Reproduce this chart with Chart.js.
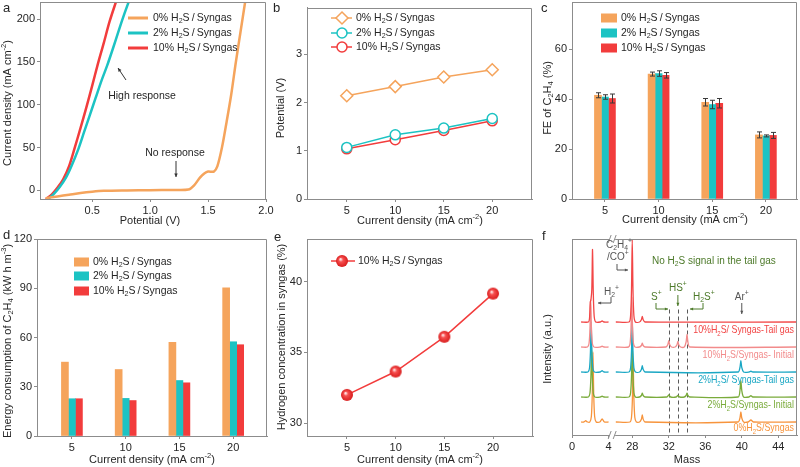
<!DOCTYPE html>
<html><head><meta charset="utf-8">
<script src="https://cdn.jsdelivr.net/npm/chart.js@4.4.1/dist/chart.umd.min.js"></script>
<style>
html,body{margin:0;padding:0;background:#fff;}
#wrap{position:relative;width:800px;height:467px;overflow:hidden;background:#fff}
#wrap canvas{position:absolute;left:0;top:0}
</style></head><body>
<div id="wrap">
<canvas id="ca" width="800" height="467"></canvas>
<canvas id="cb" width="800" height="467"></canvas>
<canvas id="cc" width="800" height="467"></canvas>
<canvas id="cd" width="800" height="467"></canvas>
<canvas id="ce" width="800" height="467"></canvas>
<canvas id="cf" width="800" height="467"></canvas>
</div>
<script>
// ---------------- DATA ----------------
// (a) polarization curves: potential (V) / current density (mA cm-2)
const aV0  = [0.10,0.20,0.30,0.40,0.50,0.60,0.80,1.00,1.20,1.33,1.38,1.43,1.47,1.50,1.55,1.58,1.62,1.66,1.70,1.74,1.78,1.82];
const aJ0  = [-9,-7,-5,-3,-1.5,-0.5,0,0.3,0.5,1,6,15,20,22,22,28,50,80,112,150,185,220];
const aV2  = [0.12,0.17,0.22,0.27,0.32,0.38,0.43,0.48,0.53,0.58,0.63,0.68,0.73,0.78,0.82];
const aJ2  = [-10,-4,4,14,28,48,68,88,108,128,146,166,187,207,222];
const aV10 = [0.10,0.15,0.20,0.25,0.30,0.35,0.40,0.45,0.50,0.55,0.60,0.65,0.71];
const aJ10 = [-10,-5,3,13,28,50,73,97,122,148,172,197,222];
const aXTicks = [0.5,1.0,1.5,2.0];
const aYTicks = [0,50,100,150,200];

// shared current-density categories
const cdCats = [5,10,15,20];
const cdTicks = [5,10,15,20];

// (b) cell potential (V)
const bPot0  = [2.14,2.33,2.53,2.68];
const bPot2  = [1.07,1.33,1.47,1.67];
const bPot10 = [1.04,1.23,1.42,1.62];
const bYTicks = [0,1,2,3];

// (c) FE of C2H4 (%) with error bars
const cFE0  = [41.6,50.1,38.8,25.7];
const cFE2  = [40.9,50.3,37.9,25.3];
const cFE10 = [40.3,49.6,38.4,25.5];
const cErr0  = [1.0,0.8,1.5,1.2];
const cErr2  = [0.9,1.1,1.7,0.4];
const cErr10 = [1.8,1.1,1.9,1.2];
const cYTicks = [0,20,40,60];

// (d) energy consumption of C2H4 (kW h m-3)
const dEC0  = [45.0,40.5,57.0,90.2];
const dEC2  = [22.7,22.9,33.8,57.4];
const dEC10 = [22.7,21.6,32.4,55.6];
const dYTicks = [0,30,60,90,120];

// (e) hydrogen concentration in syngas (%)
const eH2 = [32.0,33.65,36.1,39.15];
const eYTicks = [30,35,40];

// (f) mass spectra (mass, intensity above own baseline); null = axis break
const fMassRed  = [1.0,1.8,1.92,2.0,2.08,2.17,2.25,2.33,2.43,2.6,3.1,3.3,3.5,4.0,null,26.2,27.65,27.82,27.92,28.0,28.08,28.18,28.35,28.8,29.0,29.1,29.2,29.4,46.0];
const fIntRed   = [0,0,0.15,0.8,0.9,1.3,2.9,1.2,0.23,0,0,0.04,0,0,null,0,0,0.26,1.3,3.3,1.3,0.26,0,0,0.09,0.22,0.09,0,0];
const fMassPink = [1.0,1.7,1.87,1.97,2.05,2.13,2.23,2.4,3.1,3.3,3.5,4.0,null,26.2,27.6,27.77,27.87,27.95,28.03,28.13,28.3,28.8,29.0,29.1,29.2,29.4,31.7,31.9,32.0,32.1,32.3,32.7,32.9,33.0,33.1,33.3,33.7,33.9,34.0,34.1,34.3,46.0];
const fIntPink  = [0,0,0.15,0.76,1.9,0.76,0.15,0,0,0.03,0,0,null,0,0,0.16,0.8,2.0,0.8,0.16,0,0,0.06,0.15,0.06,0,0,0.1,0.25,0.1,0,0,0.09,0.22,0.09,0,0,0.2,0.5,0.2,0,0];
const fMassCyan = [1.0,1.75,1.92,2.02,2.1,2.18,2.28,2.45,3.1,3.3,3.5,4.0,null,26.2,27.65,27.82,27.92,28.0,28.08,28.18,28.35,28.8,29.0,29.1,29.2,29.4,39.6,39.8,39.9,40.0,40.2,40.8,41.0,41.2,46.0];
const fIntCyan  = [0,0,0.16,0.8,2.0,0.8,0.16,0,0,0.05,0,0,null,0,0,0.17,0.84,2.1,0.84,0.17,0,0,0.1,0.25,0.1,0,0,0.18,0.45,0.18,0,0,0.03,0,0];
const fMassGrn  = [1.0,1.8,1.97,2.07,2.15,2.23,2.33,2.5,3.1,3.3,3.5,4.0,null,26.2,27.65,27.82,27.92,28.0,28.08,28.18,28.35,28.8,29.0,29.1,29.2,29.4,31.8,32.0,32.2,32.8,33.0,33.2,33.7,33.9,34.0,34.1,34.3,39.6,39.8,39.9,40.0,40.2,40.8,41.0,41.2,46.0];
const fIntGrn   = [0,0,0.16,0.8,2.0,0.8,0.16,0,0,0.03,0,0,null,0,0,0.17,0.84,2.1,0.84,0.17,0,0,0.06,0.15,0.06,0,0,0.08,0,0,0.06,0,0,0.06,0.15,0.06,0,0,0.26,0.65,0.26,0,0,0.05,0,0];
const fMassOr   = [1.0,1.3,1.5,1.7,1.95,2.12,2.22,2.3,2.38,2.48,2.65,3.05,3.3,3.55,4.0,null,26.2,27.75,27.92,28.02,28.1,28.18,28.28,28.45,28.8,29.0,29.1,29.2,29.4,39.6,39.8,39.9,40.0,40.2,40.7,41.0,41.3,46.0];
const fIntOr    = [0,0,0.05,0,0,0.22,1.1,2.8,1.1,0.22,0,0,0.12,0,0,null,0,0,0.19,0.96,2.4,0.96,0.19,0,0,0.11,0.28,0.11,0,0,0.16,0.4,0.16,0,0,0.08,0,0];
const fOffsets  = [4,3,2,1,0];
const fTickMass = [0,4,28,32,36,40,44];
const fTickLabels = ['0','4','28','32','36','40','44'];
const fDashMass = [32,33,34];

const LEG = ['0% H_2S\u2009/\u2009Syngas','2% H_2S\u2009/\u2009Syngas','10% H_2S\u2009/\u2009Syngas'];

// ---------------- STYLE / HELPERS ----------------
const F = '"Liberation Sans", Arial, Helvetica, sans-serif';
const W = 800, H = 467, YW = 30, XH = 20;
const AXC = '#8c8c8c', TXT = '#262626';
const C_OR = '#f5a45c', C_CY = '#1cc3c3', C_RD = '#f23c3c';
const FC = ['#f24646','#f28b8b','#1aa7c4','#7aab3b','#f7943c'];
const tf = m => (m <= 10 ? m : m - 21.4);   // broken mass axis

function parseRich(s){
  const out=[]; let i=0, buf='';
  while(i<s.length){
    const ch=s[i];
    if(ch==='_'||ch==='^'){
      if(buf){out.push({t:buf,m:0});buf='';}
      const m = ch==='_'?1:2; i++;
      let t;
      if(s[i]==='{'){const j=s.indexOf('}',i); t=s.slice(i+1,j); i=j+1;} else {t=s[i]; i++;}
      out.push({t,m});
    } else {buf+=ch; i++;}
  }
  if(buf) out.push({t:buf,m:0});
  return out;
}
function drawRich(ctx, s, x, y, o={}){
  const size=o.size||11, color=o.color||TXT, align=o.align||'left', sx=o.sx||1;
  const parts=parseRich(s);
  const fnt=p=>(p.m?(size*0.68).toFixed(1):size)+'px '+F;
  ctx.save();
  ctx.fillStyle=color; ctx.textBaseline='middle'; ctx.textAlign='left';
  let w=0;
  for(const p of parts){ctx.font=fnt(p); p.w=ctx.measureText(p.t).width; w+=p.w;}
  ctx.translate(x,y);
  if(o.rot) ctx.rotate(-Math.PI/2);
  ctx.scale(sx,1);
  let cx = align==='center'?-w/2 : align==='right'?-w:0;
  for(const p of parts){
    ctx.font=fnt(p);
    const dy = p.m===1? size*0.3 : p.m===2? -size*0.38 : 0;
    ctx.fillText(p.t,cx,dy); cx+=p.w;
  }
  ctx.restore();
}
function arrow(ctx, pts, color, hs=4){
  ctx.save(); ctx.strokeStyle=color; ctx.fillStyle=color; ctx.lineWidth=1;
  ctx.beginPath(); ctx.moveTo(pts[0][0],pts[0][1]);
  for(let i=1;i<pts.length;i++) ctx.lineTo(pts[i][0],pts[i][1]);
  ctx.stroke();
  const [x1,y1]=pts[pts.length-2], [x2,y2]=pts[pts.length-1];
  const a=Math.atan2(y2-y1,x2-x1);
  ctx.beginPath(); ctx.moveTo(x2,y2);
  ctx.lineTo(x2-hs*Math.cos(a-0.45), y2-hs*Math.sin(a-0.45));
  ctx.lineTo(x2-hs*Math.cos(a+0.45), y2-hs*Math.sin(a+0.45));
  ctx.closePath(); ctx.fill(); ctx.restore();
}
function frameTR(ch){
  const a=ch.chartArea, c=ch.ctx;
  c.save(); c.strokeStyle=AXC; c.lineWidth=1; c.beginPath();
  const t=Math.round(a.top)+0.5, r=Math.round(a.right)-0.5;
  c.moveTo(a.left,t); c.lineTo(r,t); c.lineTo(r,a.bottom); c.stroke(); c.restore();
}
function ball(r){
  const cv=document.createElement('canvas'); const s=2*r+2; cv.width=cv.height=s;
  const g=cv.getContext('2d');
  const grd=g.createRadialGradient(r*0.75+1,r*0.7+1,r*0.1,r+1,r+1,r);
  grd.addColorStop(0,'#ffe0e0'); grd.addColorStop(0.3,'#f75050'); grd.addColorStop(1,'#d81c1c');
  g.fillStyle=grd; g.beginPath(); g.arc(r+1,r+1,r,0,Math.PI*2); g.fill();
  return cv;
}
const BALL = ball(6);

function xAxis(min,max,ticks,cb,show=true){
  return {type:'linear',min,max,offset:false,position:'bottom',
    grid:{offset:false,drawOnChartArea:false,drawTicks:show,tickLength:3,color:AXC},
    border:{display:true,color:AXC},
    ticks:{display:show,autoSkip:false,maxRotation:0,minRotation:0,color:TXT,font:{family:F,size:11},padding:2,callback:cb||(v=>String(v))},
    afterBuildTicks:s=>{s.ticks=ticks.map(v=>({value:v}));},
    afterFit:s=>{s.height=XH;s.paddingLeft=0;s.paddingRight=0;}};
}
function yAxis(min,max,ticks,cb,show=true){
  return {type:'linear',min,max,position:'left',
    grid:{drawOnChartArea:false,drawTicks:show,tickLength:3,color:AXC},
    border:{display:true,color:AXC},
    ticks:{display:show,autoSkip:false,color:TXT,font:{family:F,size:11},padding:2,callback:cb||(v=>String(v))},
    afterBuildTicks:s=>{s.ticks=ticks.map(v=>({value:v}));},
    afterFit:s=>{s.width=YW;s.paddingTop=0;s.paddingBottom=0;}};
}
function baseOpts(A, x, y){
  return {responsive:false,animation:false,devicePixelRatio:1,events:[],
    layout:{padding:{left:A.l-YW,top:A.t,right:W-A.r,bottom:H-A.b-XH}},
    plugins:{legend:{display:false},tooltip:{enabled:false}},
    scales:{x,y}};
}
const pts = (xs, ys) => xs.map((v,i)=>({x:v,y:ys[i]}));

// ---------------- (a) ----------------
const A_a={l:40,t:2,r:266,b:199};
new Chart(document.getElementById('ca'),{
  type:'line',
  data:{datasets:[
    {data:pts(aV0,aJ0),borderColor:C_OR,borderWidth:2.5,pointRadius:0,tension:0.3},
    {data:pts(aV2,aJ2),borderColor:C_CY,borderWidth:2.5,pointRadius:0,tension:0.3},
    {data:pts(aV10,aJ10),borderColor:C_RD,borderWidth:2.5,pointRadius:0,tension:0.3}]},
  options:baseOpts(A_a, xAxis(0.05,2.0,aXTicks,v=>v.toFixed(1)), yAxis(-10,220,aYTicks)),
  plugins:[{id:'decoA',afterDraw(ch){
    const c=ch.ctx; frameTR(ch);
    drawRich(c,'a',3,8,{size:13});
    drawRich(c,'Potential (V)',150,221,{align:'center',size:11});
    drawRich(c,'Current density (mA cm^{-2})',8,103,{align:'center',rot:true,size:11});
    const cols=[C_OR,C_CY,C_RD], ys=[18,33,48];
    ys.forEach((y,i)=>{c.save();c.strokeStyle=cols[i];c.lineWidth=3;c.beginPath();c.moveTo(128,y);c.lineTo(148,y);c.stroke();c.restore();
      drawRich(c,LEG[i],153,y,{size:10.5});});
    drawRich(c,'High response',142,96,{align:'center',size:10.5});
    arrow(c,[[126,80],[118,68]],'#333');
    drawRich(c,'No response',175,153,{align:'center',size:10.5});
    arrow(c,[[176,161],[176,177]],'#333');
  }}]
});

// ---------------- (b) ----------------
const A_b={l:307,t:2,r:532,b:199};
const mk = {pointBackgroundColor:'#fff',pointBorderWidth:1.5,borderWidth:1.5};
new Chart(document.getElementById('cb'),{
  type:'line',
  data:{datasets:[
    Object.assign({data:pts(cdCats,bPot0),borderColor:C_OR,pointBorderColor:C_OR,pointStyle:'rectRot',pointRadius:6},mk),
    Object.assign({data:pts(cdCats,bPot2),borderColor:C_CY,pointBorderColor:C_CY,pointStyle:'circle',pointRadius:5},mk),
    Object.assign({data:pts(cdCats,bPot10),borderColor:C_RD,pointBorderColor:C_RD,pointStyle:'circle',pointRadius:5},mk)]},
  options:baseOpts(A_b, xAxis(0.9,24.1,cdTicks), yAxis(0,3.97,bYTicks)),
  plugins:[{id:'decoB',afterDraw(ch){
    const c=ch.ctx; frameTR(ch);
    drawRich(c,'b',273,8,{size:13});
    drawRich(c,'Current density (mA cm^{-2})',420,221,{align:'center',size:11});
    drawRich(c,'Potential (V)',281,108,{align:'center',rot:true,size:11});
    const cols=[C_OR,C_CY,C_RD], ys=[18,33,47];
    ys.forEach((y,i)=>{
      c.save();c.strokeStyle=cols[i];c.lineWidth=1.5;c.beginPath();c.moveTo(331,y);c.lineTo(352,y);c.stroke();
      c.fillStyle='#fff';c.beginPath();
      if(i===0){c.moveTo(342,y-6);c.lineTo(348,y);c.lineTo(342,y+6);c.lineTo(336,y);c.closePath();}
      else c.arc(342,y,5,0,Math.PI*2);
      c.fill();c.stroke();c.restore();
      drawRich(c,LEG[i],356,y,{size:10.5});});
  }}]
});

// ---------------- bar helpers ----------------
function errPlugin(errs){
  return {id:'err',afterDatasetsDraw(ch){
    const c=ch.ctx, ys=ch.scales.y;
    c.save(); c.strokeStyle='#3a3a3a'; c.lineWidth=1;
    errs.forEach((e,di)=>{
      const meta=ch.getDatasetMeta(di), vals=ch.data.datasets[di].data;
      meta.data.forEach((bar,j)=>{
        const x=Math.round(bar.x)+0.5, v=vals[j].y;
        const y1=ys.getPixelForValue(v+e[j]), y2=ys.getPixelForValue(v-e[j]);
        c.beginPath(); c.moveTo(x,y1); c.lineTo(x,y2);
        c.moveTo(x-2.5,y1); c.lineTo(x+2.5,y1); c.moveTo(x-2.5,y2); c.lineTo(x+2.5,y2); c.stroke();
      });
    });
    c.restore();
  }};
}
const barDs = (vals,col)=>({data:pts(cdCats,vals),backgroundColor:col,borderWidth:0,barThickness:7});

// ---------------- (c) ----------------
const A_c={l:572,t:2,r:797,b:199};
new Chart(document.getElementById('cc'),{
  type:'bar',
  data:{datasets:[barDs(cFE0,C_OR),barDs(cFE2,C_CY),barDs(cFE10,C_RD)]},
  options:baseOpts(A_c, xAxis(1.93,22.9,cdTicks), yAxis(0,79,cYTicks)),
  plugins:[errPlugin([cErr0,cErr2,cErr10]),{id:'decoC',afterDraw(ch){
    const c=ch.ctx; frameTR(ch);
    drawRich(c,'c',541,8,{size:13});
    drawRich(c,'Current density (mA cm^{-2})',685,220,{align:'center',size:11});
    drawRich(c,'FE of C_2H_4 (%)',548,98,{align:'center',rot:true,size:11});
    const cols=[C_OR,C_CY,C_RD], ys=[18,33,48];
    ys.forEach((y,i)=>{c.fillStyle=cols[i];c.fillRect(601,y-4.5,16,9);drawRich(c,LEG[i],621,y,{size:10.5});});
  }}]
});

// ---------------- (d) ----------------
const A_d={l:37,t:239,r:267,b:436};
new Chart(document.getElementById('cd'),{
  type:'bar',
  data:{datasets:[barDs(dEC0,C_OR),barDs(dEC2,C_CY),barDs(dEC10,C_RD)]},
  options:baseOpts(A_d, xAxis(1.75,23.15,cdTicks), yAxis(0,120,dYTicks)),
  plugins:[{id:'decoD',afterDraw(ch){
    const c=ch.ctx; frameTR(ch);
    drawRich(c,'d',3,235,{size:13});
    drawRich(c,'Current density (mA cm^{-2})',152,460,{align:'center',size:11});
    drawRich(c,'Energy consumption of C_2H_4 (kW h m^{-3})',8,341,{align:'center',rot:true,size:11});
    const cols=[C_OR,C_CY,C_RD], ys=[262,276,291];
    ys.forEach((y,i)=>{c.fillStyle=cols[i];c.fillRect(74,y-4.5,15,9);drawRich(c,LEG[i],93,y,{size:10.5});});
  }}]
});

// ---------------- (e) ----------------
const A_e={l:307,t:239,r:533,b:436};
new Chart(document.getElementById('ce'),{
  type:'line',
  data:{datasets:[{data:pts(cdCats,eH2),borderColor:C_RD,borderWidth:1.5,pointStyle:BALL,pointRadius:6}]},
  options:baseOpts(A_e, xAxis(0.9,24.1,cdTicks), yAxis(29.1,43,eYTicks)),
  plugins:[{id:'decoE',afterDraw(ch){
    const c=ch.ctx; frameTR(ch);
    drawRich(c,'e',274,237,{size:13});
    drawRich(c,'Current density (mA cm^{-2})',420,460,{align:'center',size:11});
    drawRich(c,'Hydrogen concentration in syngas (%)',282,337,{align:'center',rot:true,size:11});
    c.save();c.strokeStyle=C_RD;c.lineWidth=1.5;c.beginPath();c.moveTo(331,261);c.lineTo(355,261);c.stroke();c.restore();
    c.drawImage(BALL,342-7,261-7);
    drawRich(c,'10% H_2S\u2009/\u2009Syngas',358,261,{size:10.5});
  }}]
});

// ---------------- (f) ----------------
const A_f={l:572,t:239,r:797,b:435};
const fSeries=(mass,inten,off)=>mass.map((m,i)=> m===null?{x:4.4,y:null}:{x:tf(m),y:inten[i]+off});
const fMass=[fMassRed,fMassPink,fMassCyan,fMassGrn,fMassOr];
const fInt=[fIntRed,fIntPink,fIntCyan,fIntGrn,fIntOr];
new Chart(document.getElementById('cf'),{
  type:'line',
  data:{datasets:fMass.map((m,k)=>({data:fSeries(m,fInt[k],fOffsets[k]),borderColor:FC[k],borderWidth:1.3,pointRadius:0,tension:0.25,spanGaps:false}))},
  options:baseOpts(A_f, xAxis(0,24.65,fTickMass.map(tf),(v,i)=>fTickLabels[i]), yAxis(-0.52,7.32,[],null,false)),
  plugins:[{id:'decoF',
    beforeDatasetsDraw(ch){
      const c=ch.ctx, xs=ch.scales.x, ys=ch.scales.y;
      c.save(); c.strokeStyle='#5a5a5a'; c.setLineDash([4,3]); c.lineWidth=1;
      fDashMass.forEach(m=>{const x=Math.round(xs.getPixelForValue(tf(m)))+0.5;
        c.beginPath(); c.moveTo(x,ys.getPixelForValue(4.5)); c.lineTo(x,ch.chartArea.bottom); c.stroke();});
      c.restore();
    },
    afterDraw(ch){
      const c=ch.ctx, xs=ch.scales.x, a=ch.chartArea; frameTR(ch);
      const px=m=>xs.getPixelForValue(tf(m));
      const bx=xs.getPixelForValue(4.4);
      [a.bottom,a.top].forEach(yy=>{
        c.save(); c.fillStyle='#fff'; c.fillRect(bx-3,yy-2,6,4);
        c.strokeStyle=AXC; c.lineWidth=1; c.beginPath();
        c.moveTo(bx-4,yy+4); c.lineTo(bx-1,yy-4); c.moveTo(bx+1,yy+4); c.lineTo(bx+4,yy-4); c.stroke(); c.restore();
      });
      drawRich(c,'f',542,236,{size:13});
      drawRich(c,'Mass',687,460,{align:'center',size:11});
      drawRich(c,'Intensity (a.u.)',548,349,{align:'center',rot:true,size:11});
      const GD='#4d7a2a', GR='#555';
      drawRich(c,'No H_2S signal in the tail gas',652,261,{size:10,color:GD});
      drawRich(c,'C_2H_4^+',606,245,{size:10,color:GR});
      drawRich(c,'/CO^+',607,257,{size:10,color:GR});
      arrow(c,[[617,264],[617,270],[628,270]],GR,3.5);
      drawRich(c,'H_2^+',604,292,{size:10,color:GR});
      arrow(c,[[611,297],[611,303],[598,303]],GR,3.5);
      drawRich(c,'S^+',651,297,{size:10,color:GD});
      arrow(c,[[656,303],[656,309],[668,309]],GD,3.5);
      drawRich(c,'HS^+',px(33),288,{size:10,color:GD,align:'center'});
      arrow(c,[[px(33),295],[px(33),306]],GD,3.5);
      drawRich(c,'H_2S^+',693,297,{size:10,color:GD});
      arrow(c,[[703,303],[703,309],[690,309]],GD,3.5);
      drawRich(c,'Ar^+',px(40),297,{size:10,color:GR,align:'center'});
      arrow(c,[[px(40),303],[px(40),314]],GR,3.5);
      const labs=['10%H_2S/ Syngas-Tail gas','10%H_2S/Syngas- Initial','2%H_2S/ Syngas-Tail gas','2%H_2S/Syngas- Initial','0%H_2S/Syngas'];
      const ly=[330,355,380,405,428];
      labs.forEach((t,k)=>drawRich(c,t,794,ly[k],{size:11.5,color:FC[k],align:'right',sx:0.77}));
    }}]
});
</script>
</body></html>
